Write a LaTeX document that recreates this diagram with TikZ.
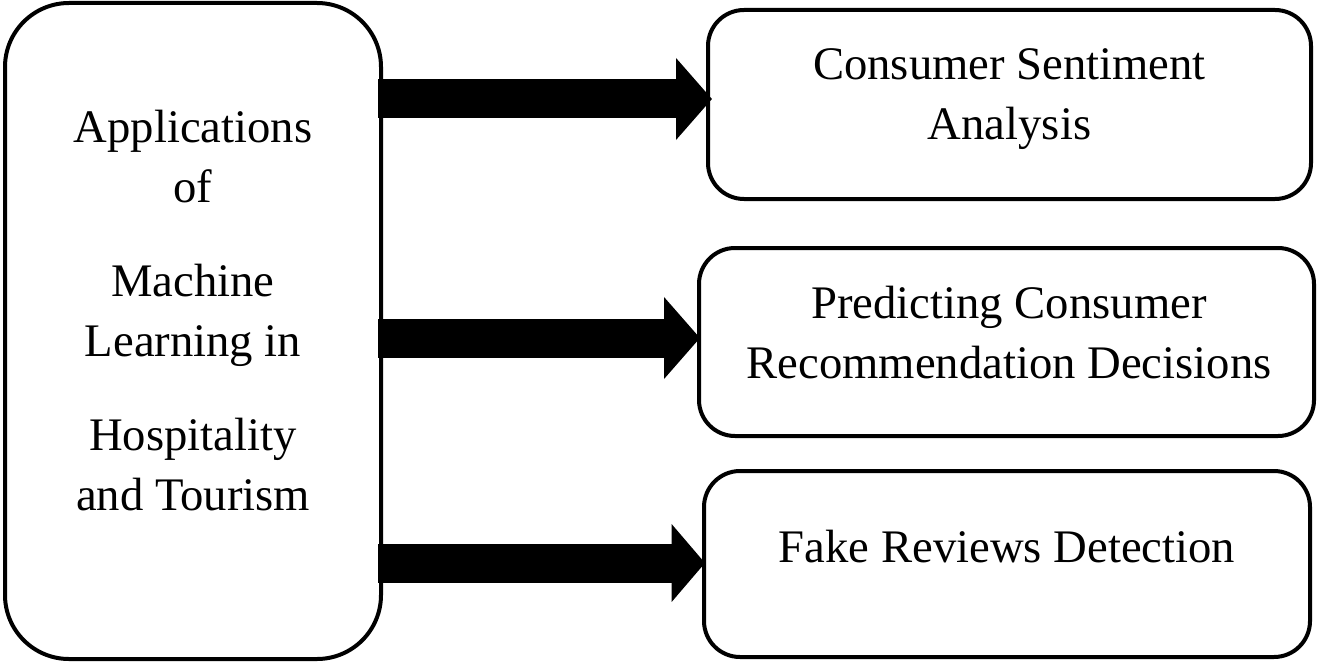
\documentclass[tikz,border=0pt]{standalone}
\usepackage{fontspec}
\setmainfont{Liberation Serif}
\usetikzlibrary{arrows.meta}
\begin{document}
\begin{tikzpicture}[x=0.75pt,y=-0.75pt,
  boxstyle/.style={draw=black, line width=3pt, fill=white, inner sep=0pt},
  txtstyle/.style={align=center, inner sep=0pt, font=\fontsize{35}{45}\selectfont},
  bigarrow/.style={draw=black, line width=29.25pt, -{Triangle[length=27pt, width=60pt]}}]
\useasboundingbox (0,0) rectangle (1319,663);
% boxes
\node[boxstyle, rounded corners=48pt, minimum width=282pt, minimum height=492pt] (left) at (193,331) {};
\node[boxstyle, rounded corners=27pt, minimum width=452.25pt, minimum height=141.75pt] (b1) at (1009.5,104.5) {};
\node[boxstyle, rounded corners=27pt, minimum width=461.25pt, minimum height=141pt] (b2) at (1006.5,342) {};
\node[boxstyle, rounded corners=27pt, minimum width=454.5pt, minimum height=139.5pt] (b3) at (1007,564) {};
% texts
\node[txtstyle, anchor=base] (lt) at (193,510) {Applications\\of\\[25.5pt]Machine\\Learning in\\[25.5pt]Hospitality\\and Tourism};
\node[txtstyle, anchor=base] (t1) at (1009.5,140) {Consumer Sentiment\\Analysis};
\node[txtstyle, anchor=base] (t2) at (1009,378) {Predicting Consumer\\Recommendation Decisions};
\node[txtstyle, anchor=base] (t3) at (1007,562) {Fake Reviews Detection};
% arrows
\coordinate (a1s) at (378,99);
\coordinate (a2s) at (378,338);
\coordinate (a3s) at (378,563);
\draw[bigarrow] (a1s) -- ([xshift=4.5pt]a1s -| b1.west);
\draw[bigarrow] (a2s) -- ([xshift=2.25pt]a2s -| b2.west);
\draw[bigarrow, -{Triangle[length=25pt, width=57pt]}] (a3s) -- ([xshift=2.25pt]a3s -| b3.west);
\end{tikzpicture}
\end{document}
